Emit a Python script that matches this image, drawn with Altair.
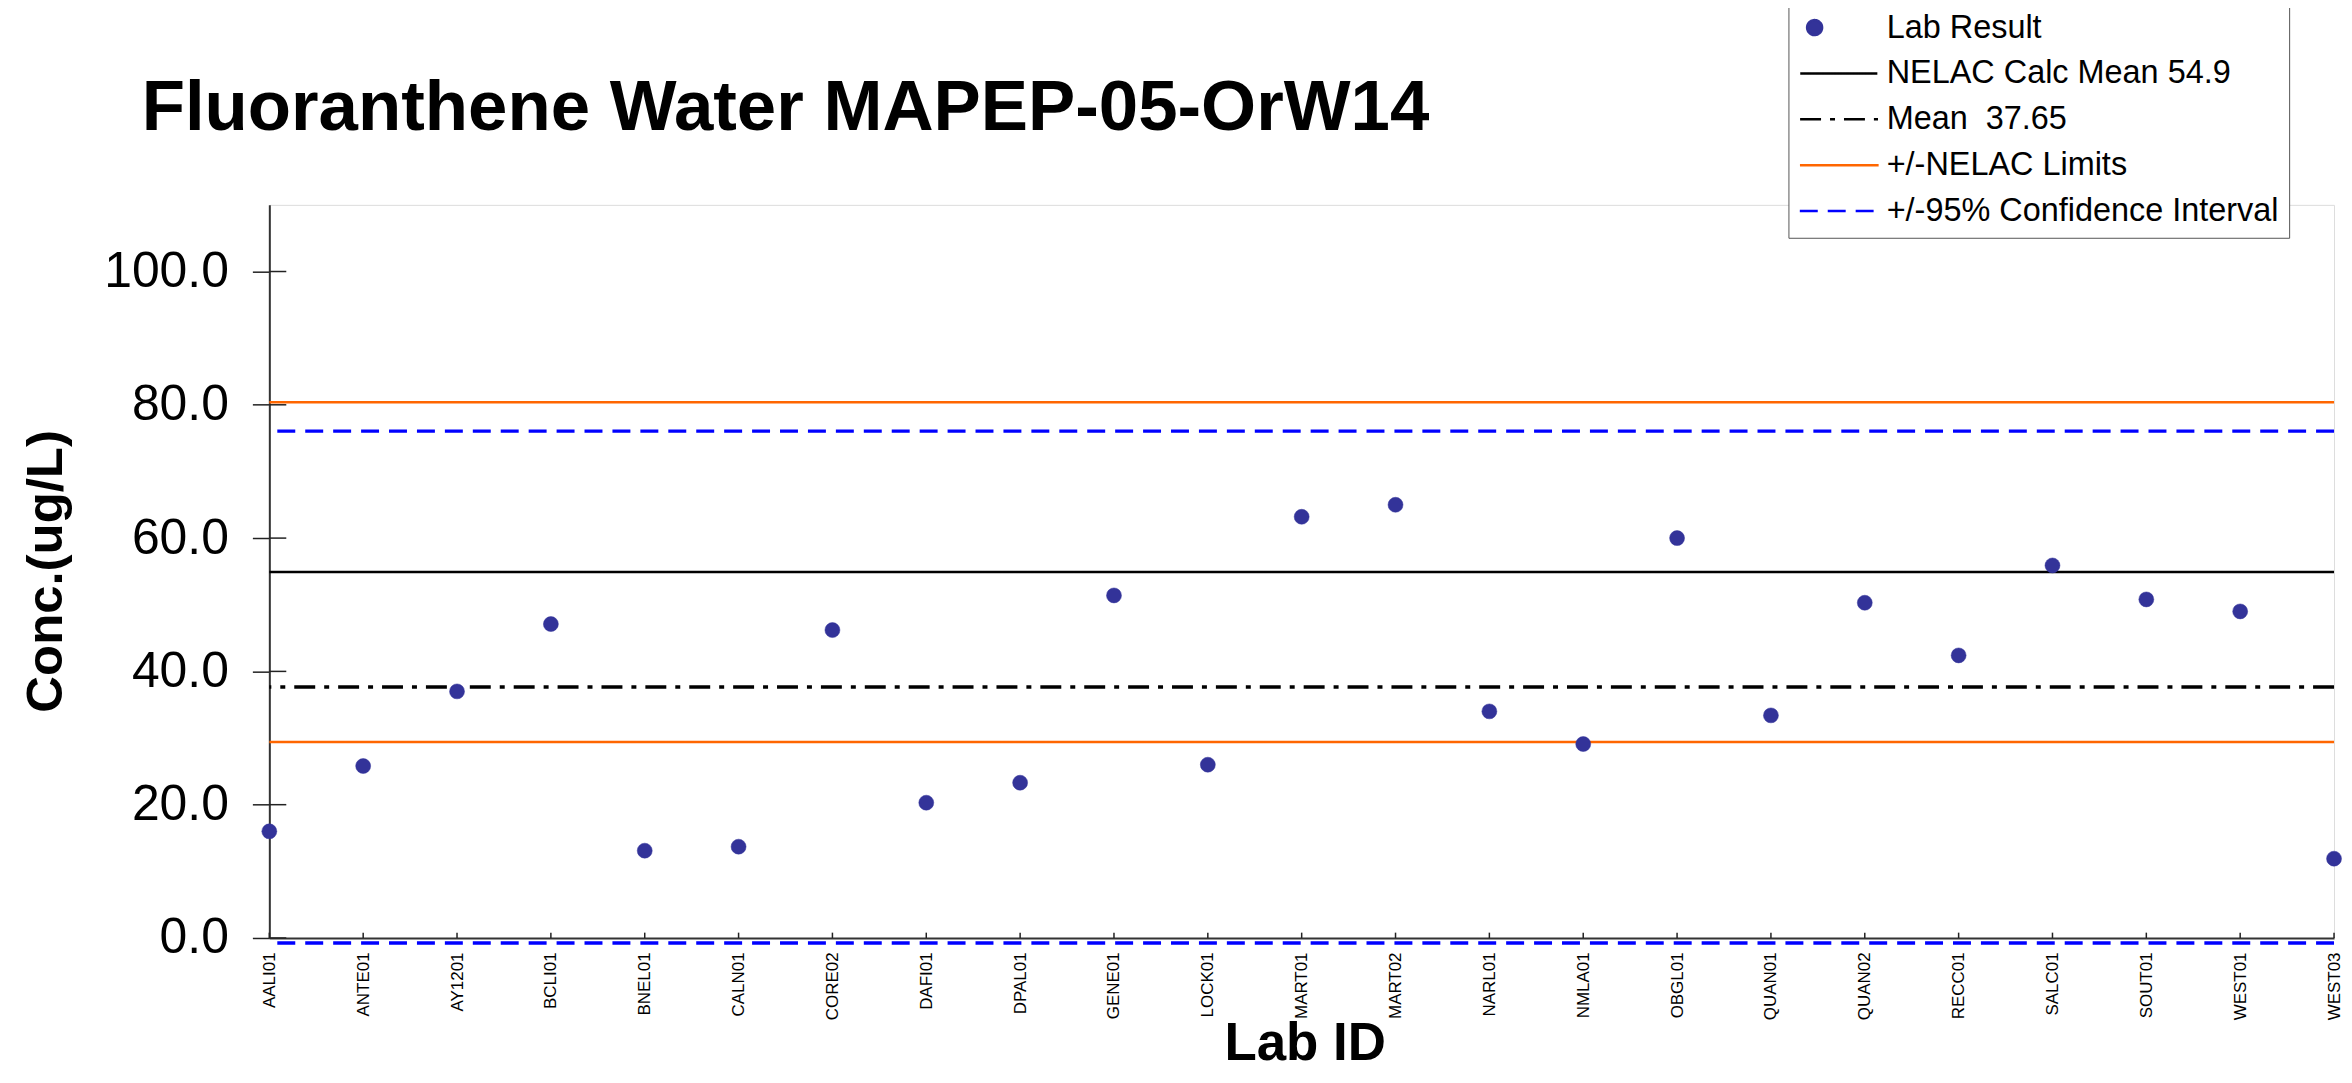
import altair as alt
import pandas as pd

labs = ["AALI01", "ANTE01", "AY1201", "BCLI01", "BNEL01", "CALN01", "CORE02",
        "DAFI01", "DPAL01", "GENE01", "LOCK01", "MART01", "MART02", "NARL01",
        "NMLA01", "OBGL01", "QUAN01", "QUAN02", "RECC01", "SALC01", "SOUT01",
        "WEST01", "WEST03"]
results = [16.0, 25.8, 37.0, 47.1, 13.1, 13.7, 46.2,
           20.3, 23.3, 51.4, 26.0, 63.2, 65.0, 34.0,
           29.1, 60.0, 33.4, 50.3, 42.4, 55.9, 50.8,
           49.0, 11.9]

series_names = ["Lab Result", "NELAC Calc Mean 54.9", "Mean \u00a037.65",
                "+/-NELAC Limits", "+/-95% Confidence Interval"]
series_colors = ["#333399", "#000000", "#000000", "#FF6600", "#0000FF"]
series_fills = ["#333399", "transparent", "transparent", "transparent", "transparent"]
LINE_SYM = "M-1.9,0H8.3"
series_shapes = ["circle", LINE_SYM, LINE_SYM, LINE_SYM, LINE_SYM]
series_dashes = [[1, 0], [1, 0], [21, 9, 5, 9], [1, 0], [18, 10]]
series_sizes = [225, 244, 244, 244, 244]
series_widths = [0.5, 2.5, 3.5, 2.5, 3.5]

ref_series = ["NELAC Calc Mean 54.9", "Mean \u00a037.65", "+/-NELAC Limits",
              "+/-NELAC Limits", "+/-95% Confidence Interval", "+/-95% Confidence Interval"]
ref_values = [54.9, 37.65, 80.4, 29.4, 76.05, -0.75]

y_ticks = [0, 20, 40, 60, 80, 100]

W, H = 2070, 735

pts = pd.DataFrame({"lab": labs, "value": results, "series": "Lab Result"})
refs = pd.DataFrame({"series": ref_series, "value": ref_values})
labdf = pd.DataFrame({"lab": labs})
ytdf = pd.DataFrame({"value": y_ticks})

xscale = alt.Scale(type="point", padding=0, domain=labs)
yscale = alt.Scale(domain=[0, 110], nice=False, zero=False)

color_s = alt.Scale(domain=series_names, range=series_colors)
fill_s = alt.Scale(domain=series_names, range=series_fills)
shape_s = alt.Scale(domain=series_names, range=series_shapes)
dash_s = alt.Scale(domain=series_names, range=series_dashes)
size_s = alt.Scale(domain=series_names, range=series_sizes)

legend = alt.Legend(
    title=None, orient="none", legendX=1523, legendY=-204,
    labelFont="Liberation Sans", labelFontSize=32.5, labelColor="black",
    fillColor="white", strokeColor="#555555", padding=10,
    rowPadding=13, symbolStrokeWidth=2.5, labelOffset=56,
    labelLimit=600, columnPadding=0,
)

xaxis = alt.Axis(
    title="Lab ID", titleFont="Liberation Sans", titleFontSize=53,
    titleFontWeight="bold", titleColor="black", titleX=1038, titleY=122,
    titleBaseline="alphabetic", titleAlign="center",
    labelAngle=-90, labelFont="Liberation Sans", labelFontSize=17,
    labelColor="black", labelPadding=14, tickSize=0, labelOverlap=False,
    domainColor="#333333", domainWidth=2,
)
yaxis = alt.Axis(
    title="Conc.(ug/L)", titleFont="Liberation Sans", titleFontSize=51,
    titleFontWeight="bold", titleColor="black", titleX=-208, titleY=367,
    titleAngle=-90, titleBaseline="alphabetic", titleAlign="center",
    values=y_ticks, format=".1f", labelFont="Liberation Sans", labelFontSize=50,
    labelColor="black", labelPadding=24, tickSize=17, tickColor="#222222",
    tickWidth=1.5, domainColor="#333333", domainWidth=2, grid=False,
)

rule_layers = []
for name, width in zip(series_names[1:], series_widths[1:]):
    rule_layers.append(
        alt.Chart(refs).mark_rule(strokeWidth=width).encode(
            y=alt.Y("value:Q", scale=yscale, axis=yaxis),
            color=alt.Color("series:N", scale=color_s, legend=legend),
            strokeDash=alt.StrokeDash("series:N", scale=dash_s, legend=legend),
        ).transform_filter(alt.FieldEqualPredicate(field="series", equal=name))
    )

xt = alt.Chart(labdf).mark_rule(color="#222222", strokeWidth=1.5).encode(
    x=alt.X("lab:N", scale=xscale, sort=labs, axis=xaxis),
    y=alt.datum(0),
    y2=alt.datum(0.8),
)

yt = alt.Chart(ytdf).mark_rule(color="#222222", strokeWidth=1.5).encode(
    y=alt.Y("value:Q", scale=yscale, axis=yaxis),
    x=alt.value(0),
    x2=alt.value(17),
)

points = alt.Chart(pts).mark_point(filled=False, strokeWidth=series_widths[0], opacity=1).encode(
    x=alt.X("lab:N", scale=xscale, sort=labs, axis=xaxis),
    y=alt.Y("value:Q", scale=yscale, axis=yaxis),
    color=alt.Color("series:N", scale=color_s, legend=legend),
    fill=alt.Fill("series:N", scale=fill_s, legend=legend),
    shape=alt.Shape("series:N", scale=shape_s, legend=legend),
    size=alt.Size("series:N", scale=size_s, legend=legend),
)

chart = alt.layer(*rule_layers, xt, yt, points).properties(
    width=W, height=H,
    title=alt.Title(
        "Fluoranthene Water MAPEP-05-OrW14", font="Liberation Sans",
        fontSize=71, fontWeight="bold", color="black", anchor="start",
        frame="group", dx=-128, dy=200, offset=0, baseline="alphabetic",
    ),
    autosize=alt.AutoSizeParams(type="none"),
    padding={"left": 262, "top": 196, "right": 10, "bottom": 134},
).configure_view(
    stroke="#888888", strokeWidth=2
).configure(background="white")

chart.save("out.html", embed_options={"renderer": "svg", "actions": False})
